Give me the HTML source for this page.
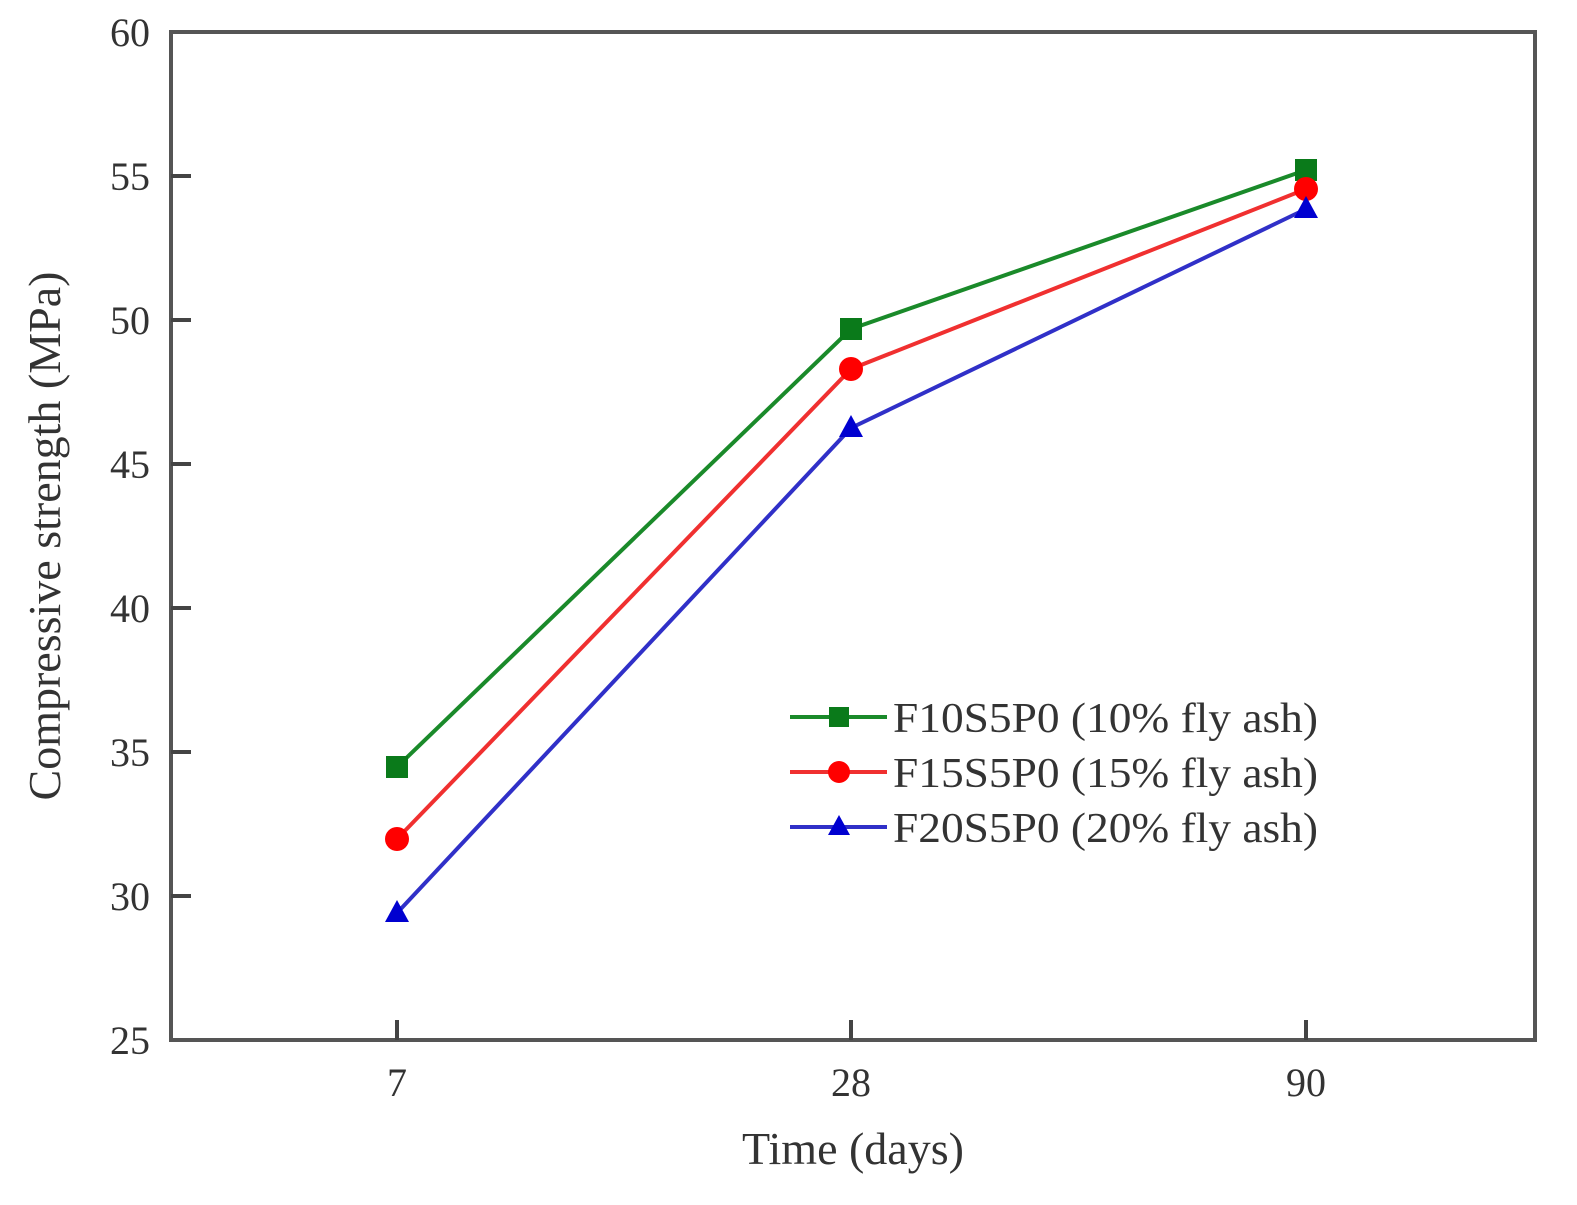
<!DOCTYPE html>
<html><head><style>html,body{margin:0;padding:0;background:#fff}</style></head><body>
<svg width="1577" height="1200" xmlns="http://www.w3.org/2000/svg" font-family="Liberation Serif, serif" fill="#333">
<rect x="171" y="32" width="1364" height="1008" fill="none" stroke="#555" stroke-width="4"/>
<g stroke="#444" stroke-width="4">
<line x1="171" y1="176" x2="191" y2="176"/><line x1="171" y1="320" x2="191" y2="320"/>
<line x1="171" y1="464" x2="191" y2="464"/><line x1="171" y1="608" x2="191" y2="608"/>
<line x1="171" y1="752" x2="191" y2="752"/><line x1="171" y1="896" x2="191" y2="896"/>
<line x1="397" y1="1040" x2="397" y2="1020"/><line x1="851" y1="1040" x2="851" y2="1020"/><line x1="1306" y1="1040" x2="1306" y2="1020"/>
</g>
<g font-size="40" text-anchor="end">
<text x="150" y="46">60</text><text x="150" y="190">55</text><text x="150" y="334">50</text><text x="150" y="478">45</text>
<text x="150" y="622">40</text><text x="150" y="766">35</text><text x="150" y="910">30</text><text x="150" y="1054">25</text>
</g>
<g font-size="40" text-anchor="middle">
<text x="397" y="1096">7</text><text x="851" y="1096">28</text><text x="1306" y="1096">90</text>
</g>
<text x="853" y="1164" font-size="46" text-anchor="middle">Time (days)</text>
<text transform="translate(60,536) rotate(-90)" font-size="46" text-anchor="middle">Compressive strength (MPa)</text>
<g fill="none" stroke-width="4">
<polyline points="397,767 851,329 1306,170" stroke="#1a8a2a"/>
<polyline points="397,839 851,369 1306,189" stroke="#f03030"/>
<polyline points="397,913 851,428 1306,209" stroke="#3030c8"/>
</g>
<g fill="#0a7a1a"><rect x="386" y="756" width="22" height="22"/><rect x="840" y="318" width="22" height="22"/><rect x="1295" y="159" width="22" height="22"/></g>
<g fill="#ff0000"><circle cx="397" cy="839" r="12"/><circle cx="851" cy="369" r="12"/><circle cx="1306" cy="189" r="12"/></g>
<g fill="#0000d0"><polygon points="397,900 385,922 409,922"/><polygon points="851,415 839,437 863,437"/><polygon points="1306,196 1294,218 1318,218"/></g>
<g stroke-width="4">
<line x1="790" y1="717" x2="887" y2="717" stroke="#1a8a2a"/>
<line x1="790" y1="772" x2="887" y2="772" stroke="#f03030"/>
<line x1="790" y1="827" x2="887" y2="827" stroke="#3030c8"/>
</g>
<rect x="829" y="707" width="20" height="20" fill="#0a7a1a"/>
<circle cx="839" cy="772" r="11" fill="#ff0000"/>
<polygon points="839,815 828,835 850,835" fill="#0000d0"/>
<g font-size="42">
<text x="893" y="732" textLength="425" lengthAdjust="spacingAndGlyphs">F10S5P0 (10% fly ash)</text>
<text x="893" y="787" textLength="425" lengthAdjust="spacingAndGlyphs">F15S5P0 (15% fly ash)</text>
<text x="893" y="842" textLength="425" lengthAdjust="spacingAndGlyphs">F20S5P0 (20% fly ash)</text>
</g>
</svg>
</body></html>
